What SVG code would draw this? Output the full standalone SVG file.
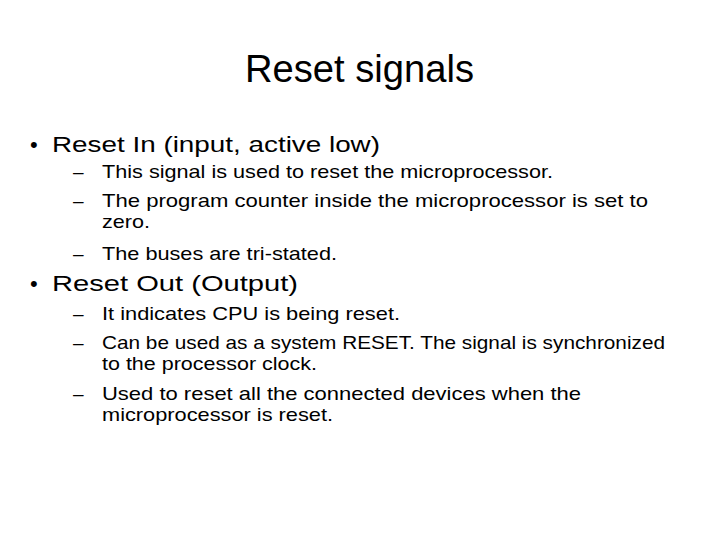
<svg xmlns="http://www.w3.org/2000/svg" width="720" height="540" viewBox="0 0 720 540">
<style>
text{font-family:"Liberation Sans",Arial,sans-serif;fill:#000}
.t{font-size:38px}
.b{font-size:22px}
.s{font-size:19px}
</style>
<rect width="720" height="540" fill="#fff"/>
<text class="t" x="245" y="82" textLength="229" lengthAdjust="spacingAndGlyphs">Reset signals</text>
<g id="bullet1">
<text class="b" x="30" y="152">•</text>
<text class="b" x="52" y="152" textLength="328" lengthAdjust="spacingAndGlyphs">Reset In (input, active low)</text>
<text class="s" x="73" y="178">–</text>
<text class="s" x="102" y="178" textLength="451" lengthAdjust="spacingAndGlyphs">This signal is used to reset the microprocessor.</text>
<text class="s" x="73" y="207">–</text>
<text class="s" x="102" y="207" textLength="546" lengthAdjust="spacingAndGlyphs">The program counter inside the microprocessor is set to</text>
<text class="s" x="102" y="228" textLength="48" lengthAdjust="spacingAndGlyphs">zero.</text>
<text class="s" x="73" y="260">–</text>
<text class="s" x="102" y="260" textLength="235" lengthAdjust="spacingAndGlyphs">The buses are tri-stated.</text>
</g>
<g id="bullet2">
<text class="b" x="30" y="291">•</text>
<text class="b" x="52" y="291" textLength="246" lengthAdjust="spacingAndGlyphs">Reset Out (Output)</text>
<text class="s" x="73" y="320">–</text>
<text class="s" x="102" y="320" textLength="298" lengthAdjust="spacingAndGlyphs">It indicates CPU is being reset.</text>
<text class="s" x="73" y="349">–</text>
<text class="s" x="102" y="349" textLength="563" lengthAdjust="spacingAndGlyphs">Can be used as a system RESET. The signal is synchronized</text>
<text class="s" x="102" y="370" textLength="215" lengthAdjust="spacingAndGlyphs">to the processor clock.</text>
<text class="s" x="73" y="400">–</text>
<text class="s" x="102" y="400" textLength="479" lengthAdjust="spacingAndGlyphs">Used to reset all the connected devices when the</text>
<text class="s" x="102" y="421" textLength="231" lengthAdjust="spacingAndGlyphs">microprocessor is reset.</text>
</g>
</svg>
